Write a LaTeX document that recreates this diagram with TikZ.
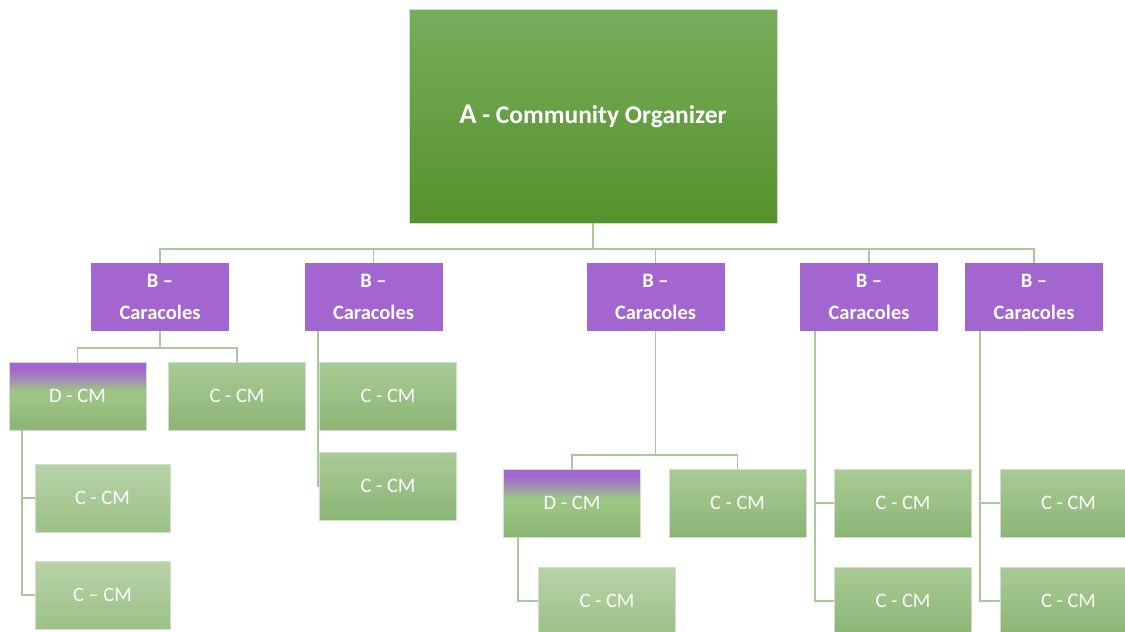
\documentclass[tikz,border=0pt]{standalone}
\usepackage{fontspec}
\setmainfont{Carlito}
\definecolor{agtop}{HTML}{78AD5C}
\definecolor{agbot}{HTML}{55922C}
\definecolor{purp}{HTML}{A366D1}
\definecolor{cgtop}{HTML}{A9CB96}
\definecolor{cgbot}{HTML}{8BB575}
\definecolor{lgtop}{HTML}{B7D3A8}
\definecolor{lgbot}{HTML}{9CC086}
\definecolor{dgmid}{HTML}{9CC484}
\definecolor{dggray}{HTML}{A291B0}
\definecolor{conncol}{HTML}{A8C999}
\definecolor{edgecol}{HTML}{D3DDCD}
\pgfdeclareverticalshading{dcmshade}{100bp}{color(0bp)=(cgbot); color(25bp)=(cgbot); color(48bp)=(dgmid); color(54bp)=(dgmid); color(62bp)=(dggray); color(70bp)=(purp); color(100bp)=(purp)}
\tikzset{
  box/.style={rectangle, inner sep=0pt, minimum width=137, minimum height=68, text=white, draw=edgecol, line width=0.7pt},
  abox/.style={box, minimum width=368, minimum height=214, top color=agtop, bottom color=agbot, font=\fontsize{25.5}{30}\bfseries\selectfont},
  bbox/.style={box, minimum width=138, fill=purp, draw=none, align=center, font=\fontsize{20.5}{32}\bfseries\selectfont},
  cbox/.style={box, top color=cgtop, bottom color=cgbot, font=\fontsize{20.5}{24}\selectfont},
  lbox/.style={box, top color=lgtop, bottom color=lgbot, font=\fontsize{20.5}{24}\selectfont},
  dbox/.style={box, shading=dcmshade, font=\fontsize{20.5}{24}\selectfont},
  conn/.style={draw=conncol, line width=1.8pt}
}
\begin{document}
\begin{tikzpicture}[x=1pt, y=-1pt]
\path[use as bounding box] (0,0) rectangle (1125,632);
\clip (0,0) rectangle (1125,632);
\fill[white] (0,0) rectangle (1125,632);
% top
\node[abox] (A) at (593,116) {\raisebox{-3pt}{{\fontsize{28.5}{30}\selectfont A} - Community Organizer}};
% B level
\node[bbox] (B1) at (160,297) {B –\\Caracoles};
\node[bbox] (B2) at (373.5,297) {B –\\Caracoles};
\node[bbox] (B3) at (655.5,297) {B –\\Caracoles};
\node[bbox] (B4) at (869,297) {B –\\Caracoles};
\node[bbox] (B5) at (1034,297) {B –\\Caracoles};
% B1 subtree
\node[dbox] (D1) at (77.5,396) {D - CM};
\node[cbox] (C11) at (237,396) {C - CM};
\node[lbox, minimum width=135] (C12) at (102.5,498) {C - CM};
\node[lbox, minimum width=135] (C13) at (102.5,595) {C – CM};
% B2 subtree
\node[cbox] (C21) at (388,396) {C - CM};
\node[cbox] (C22) at (388,486) {C - CM};
% B3 subtree
\node[dbox] (D3) at (572,503) {D - CM};
\node[cbox] (C31) at (737.5,503) {C - CM};
\node[lbox] (C33) at (607,601) {C - CM};
% B4 subtree
\node[cbox] (C41) at (903,503) {C - CM};
\node[cbox] (C42) at (903,601) {C - CM};
% B5 subtree
\node[cbox] (C51) at (1068.5,503) {C - CM};
\node[cbox] (C52) at (1068.5,601) {C - CM};
% connectors
\foreach \b in {B1,B2,B3,B4,B5}{
  \draw[conn] (A.south) -- ++(0,26) -| (\b.north);
}
\draw[conn] (B1.south) -- ++(0,17) -| (D1.north);
\draw[conn] (B1.south) -- ++(0,17) -| (C11.north);
\draw[conn] ([xshift=13]D1.south west) |- (C12.west);
\draw[conn] ([xshift=13]D1.south west) |- (C13.west);
\draw[conn] ([xshift=14]B2.south west) |- (C21.west);
\draw[conn] ([xshift=14]B2.south west) |- (C22.west);
\draw[conn] (B3.south) -- ++(0,124) -| (D3.north);
\draw[conn] (B3.south) -- ++(0,124) -| (C31.north);
\draw[conn] ([xshift=15]D3.south west) |- (C33.west);
\draw[conn] ([xshift=15]B4.south west) |- (C41.west);
\draw[conn] ([xshift=15]B4.south west) |- (C42.west);
\draw[conn] ([xshift=15]B5.south west) |- (C51.west);
\draw[conn] ([xshift=15]B5.south west) |- (C52.west);
\end{tikzpicture}
\end{document}
